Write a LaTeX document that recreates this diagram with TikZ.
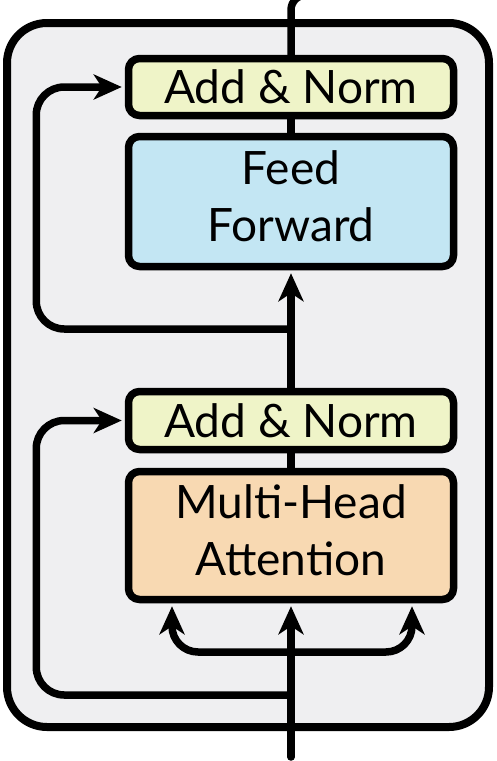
\documentclass[tikz,border=0pt]{standalone}
\usepackage{fontspec}
\setmainfont{Lato}
\usetikzlibrary{arrows.meta}
\definecolor{normfill}{HTML}{EFF4C8}
\definecolor{ffnfill}{HTML}{C3E6F3}
\definecolor{attnfill}{HTML}{F8D9B2}
\definecolor{layerfill}{HTML}{EFEFF1}

\begin{document}
\begin{tikzpicture}[x=1pt, y=-1pt, line cap=round, line join=round]
  \tikzset{block/.style={draw=black, line width=7.5pt, rounded corners=11pt, minimum width=325pt, align=center, inner sep=0pt, font=\fontsize{46}{57}\selectfont},
    wire/.style={draw=black, line width=7.5pt},
    arrowed/.style={-{Stealth[length=28pt, width=25pt, inset=8pt]}, shorten >=3pt}}

  \useasboundingbox (0,0) rectangle (497,761);
  \clip (0,0) rectangle (497,761);
  \fill[white] (0,0) rectangle (497,761);

  % encoder layer frame
  \draw[fill=layerfill, line width=8pt, rounded corners=40pt] (7,23) rectangle (489,727);

  % sub-layers, bottom one first in the data flow
  \node[block, fill=attnfill, minimum height=128pt, text depth=10pt] (mha) at (291,535.5) {Multi-Head\\Attention};
  \node[block, fill=normfill, minimum height=58pt] (norm1) at (291,420.5) {Add \& Norm};
  \node[block, fill=ffnfill, minimum height=130pt, text depth=10pt] (ffn) at (291,201.5) {Feed\\Forward};
  \node[block, fill=normfill, minimum height=57pt] (norm2) at (291,87) {Add \& Norm};

  \coordinate (input) at (291,757);
  \coordinate (fork) at (291,652);
  \coordinate (skip1) at (291,695);
  \coordinate (skip2) at (291,329);
  \coordinate (output) at (340,-5);

  % main path
  \draw[wire, arrowed] (input) -- (mha.south);
  \draw[wire] (mha.north) -- (norm1.south);
  \draw[wire, arrowed] (norm1.north) -- (ffn.south);
  \draw[wire] (ffn.north) -- (norm2.south);
  \draw[wire, rounded corners=15pt] (norm2.north) |- (output);

  % query, key and value branches
  \draw[wire, arrowed, rounded corners=26pt] (fork) -| ([xshift=-119pt]mha.south);
  \draw[wire, arrowed, rounded corners=26pt] (fork) -| ([xshift=121pt]mha.south);

  % residual connections
  \draw[wire, arrowed, rounded corners=28pt] (skip1) -| ([xshift=-88.5pt]norm1.west) -- (norm1.west);
  \draw[wire, arrowed, rounded corners=28pt] (skip2) -| ([xshift=-88.5pt]norm2.west) -- (norm2.west);
\end{tikzpicture}
\end{document}
